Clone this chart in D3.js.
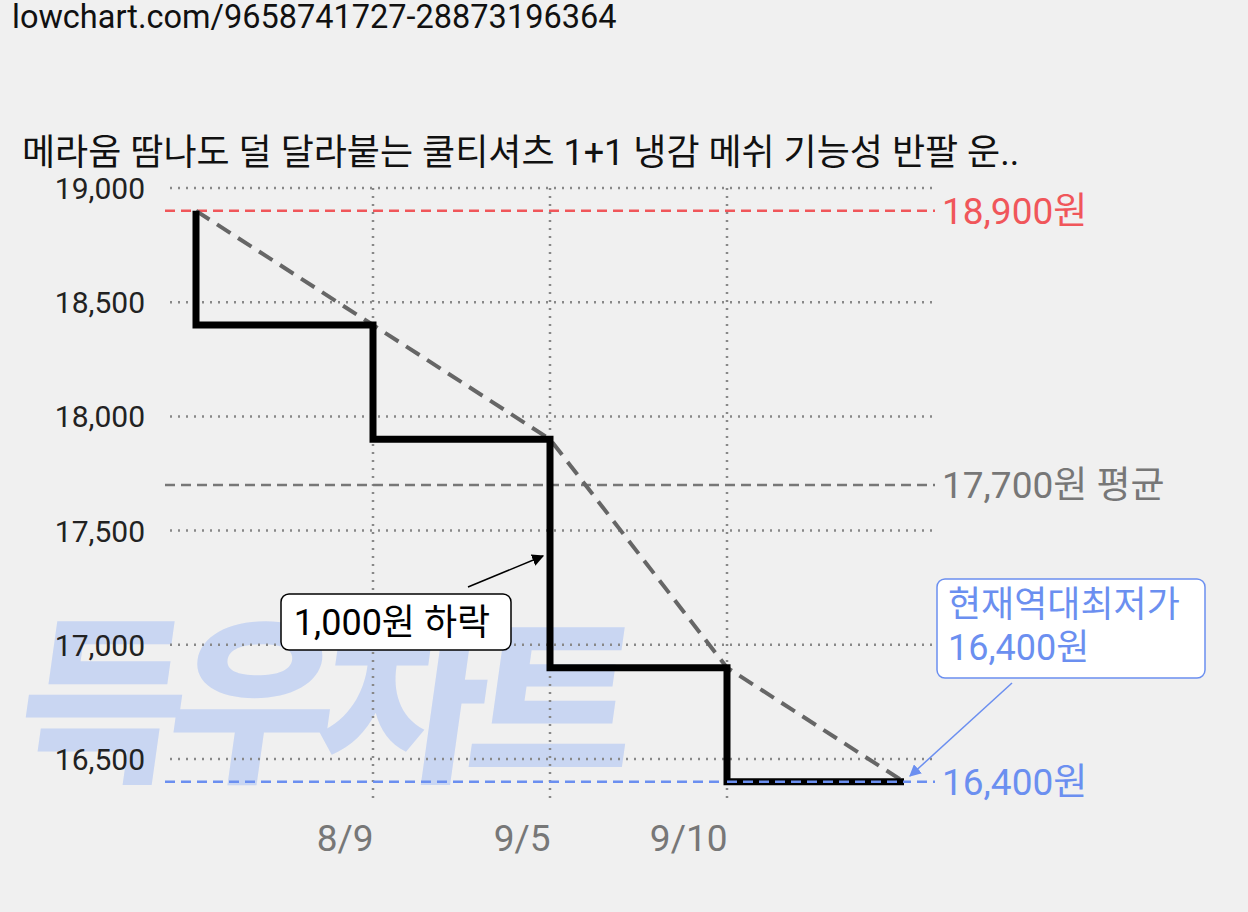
<!DOCTYPE html>
<html><head><meta charset="utf-8">
<script src="https://cdn.jsdelivr.net/npm/d3@7"></script>
<style>body{margin:0;background:#f0f0f0}text{font-family:Roboto,"Noto Sans CJK KR",sans-serif}</style>
</head><body>
<svg id="chart" width="1248" height="912"></svg>
<script>
const steps = [0, 1, 2, 3, 4];
const tickLabels = ["", "8/9", "9/5", "9/10", ""];
const prices = [18900, 18400, 17900, 16900, 16400];
const yTicks = [16500, 17000, 17500, 18000, 18500, 19000];
const maxPrice = 18900, avgPrice = 17700, minPrice = 16400;

const svg = d3.select("#chart");
svg.append("rect").attr("width",1248).attr("height",912).attr("fill","#f0f0f0");

const x = d3.scaleLinear().domain([0,4]).range([196,904]);
const y = d3.scaleLinear().domain([16500,19000]).range([759,188]);

// watermark
svg.append("text").attr("x",20).attr("y",768).attr("font-size",180).attr("font-weight",900)
  .attr("fill","#c9d6f2").attr("transform","translate(100,0) skewX(-8)").attr("letter-spacing",-16)
  .attr("textLength",600).attr("lengthAdjust","spacingAndGlyphs").text("득우차트");

svg.append("text").attr("x",12).attr("y",28).attr("font-size",32.5).attr("fill","#111").text("lowchart.com/9658741727-28873196364");
svg.append("text").attr("x",22).attr("y",165).attr("font-size",36).attr("fill","#111").text("메라움 땀나도 덜 달라붙는 쿨티셔츠 1+1 냉감 메쉬 기능성 반팔 운..");

// grid
svg.selectAll(".hg").data(yTicks).join("line").attr("x1",170).attr("x2",935)
  .attr("y1",d=>y(d)).attr("y2",d=>y(d)).attr("stroke","#888").attr("stroke-width",2.5).attr("stroke-dasharray","2,6");
svg.selectAll(".vg").data(steps.slice(1,4)).join("line").attr("x1",d=>x(d)).attr("x2",d=>x(d))
  .attr("y1",188).attr("y2",800).attr("stroke","#888").attr("stroke-width",2.5).attr("stroke-dasharray","2,6");

const yAxis = svg.append("g").attr("transform","translate(148,0)")
  .call(d3.axisLeft(y).tickValues(yTicks).tickSize(0).tickFormat(d3.format(",")));
yAxis.select(".domain").remove();
yAxis.selectAll("text").attr("font-size",30).attr("fill","#222").attr("dy","0.35em");

const xAxis = svg.append("g").attr("transform","translate(0,822)")
  .call(d3.axisBottom(x).tickValues(steps.slice(1,4)).tickSize(0).tickFormat(d=>tickLabels[d]));
xAxis.select(".domain").remove();
xAxis.selectAll("text").attr("font-size",37).attr("fill","#777").attr("dy","0.71em").attr("text-anchor","end");

// reference lines
const refs = [
  {v:maxPrice, c:"#f0565a", t:"18,900원"},
  {v:avgPrice, c:"#777", t:"17,700원 평균"},
  {v:minPrice, c:"#6b8ff0", t:"16,400원"}];
refs.forEach(r=>{
  svg.append("line").attr("x1",165).attr("x2",935).attr("y1",y(r.v)).attr("y2",y(r.v))
    .attr("stroke",r.c).attr("stroke-width",2.5).attr("stroke-dasharray","10,6");
  svg.append("text").attr("x",942).attr("y",y(r.v)).attr("dy","0.36em").attr("font-size",37).attr("fill",r.c).text(r.t);
});

// trend dashed
svg.append("path").datum(steps).attr("fill","none").attr("stroke","#666").attr("stroke-width",4)
  .attr("stroke-dasharray","16,9")
  .attr("d",d3.line().x(d=>x(d)).y(d=>y(prices[d])));

// step line
const stepPts = [[0,prices[0]]].concat(steps.map((d,i)=>[d, prices[Math.min(i+1,4)]]));
svg.append("path").datum(stepPts).attr("fill","none").attr("stroke","#000").attr("stroke-width",7)
  .attr("d",d3.line().x(d=>x(d[0])).y(d=>y(d[1])).curve(d3.curveStepAfter));
svg.append("line").attr("x1",x(3)).attr("x2",x(4)).attr("y1",y(minPrice)).attr("y2",y(minPrice))
  .attr("stroke","#6b8ff0").attr("stroke-width",2.5).attr("stroke-dasharray","10,6");

// arrows
const defs = svg.append("defs");
[["ab","#000"],["ablue","#6b8ff0"]].forEach(([id,c])=>{
  defs.append("marker").attr("id",id).attr("viewBox","0 0 10 10").attr("refX",9).attr("refY",5)
    .attr("markerWidth",8).attr("markerHeight",8).attr("orient","auto")
    .append("path").attr("d","M0,0L10,5L0,10z").attr("fill",c);
});
svg.append("line").attr("x1",468).attr("y1",587).attr("x2",543).attr("y2",556)
  .attr("stroke","#000").attr("stroke-width",1.5).attr("marker-end","url(#ab)");
svg.append("rect").attr("x",281).attr("y",594).attr("width",230).attr("height",56).attr("rx",8)
  .attr("fill","#fff").attr("stroke","#000").attr("stroke-width",1.5);
svg.append("text").attr("x",392).attr("y",622).attr("dy","0.36em").attr("text-anchor","middle")
  .attr("font-size",36).attr("fill","#000").text("1,000원 하락");

svg.append("line").attr("x1",1012).attr("y1",683).attr("x2",910).attr("y2",776)
  .attr("stroke","#6b8ff0").attr("stroke-width",1.5).attr("marker-end","url(#ablue)");
svg.append("rect").attr("x",937).attr("y",579).attr("width",268).attr("height",99).attr("rx",8)
  .attr("fill","#fff").attr("stroke","#6b8ff0").attr("stroke-width",1.5);
svg.append("text").attr("x",948).attr("y",617).attr("font-size",36).attr("fill","#6b8ff0").text("현재역대최저가");
svg.append("text").attr("x",948).attr("y",660).attr("font-size",36).attr("fill","#6b8ff0").text("16,400원");
</script>
</body></html>
